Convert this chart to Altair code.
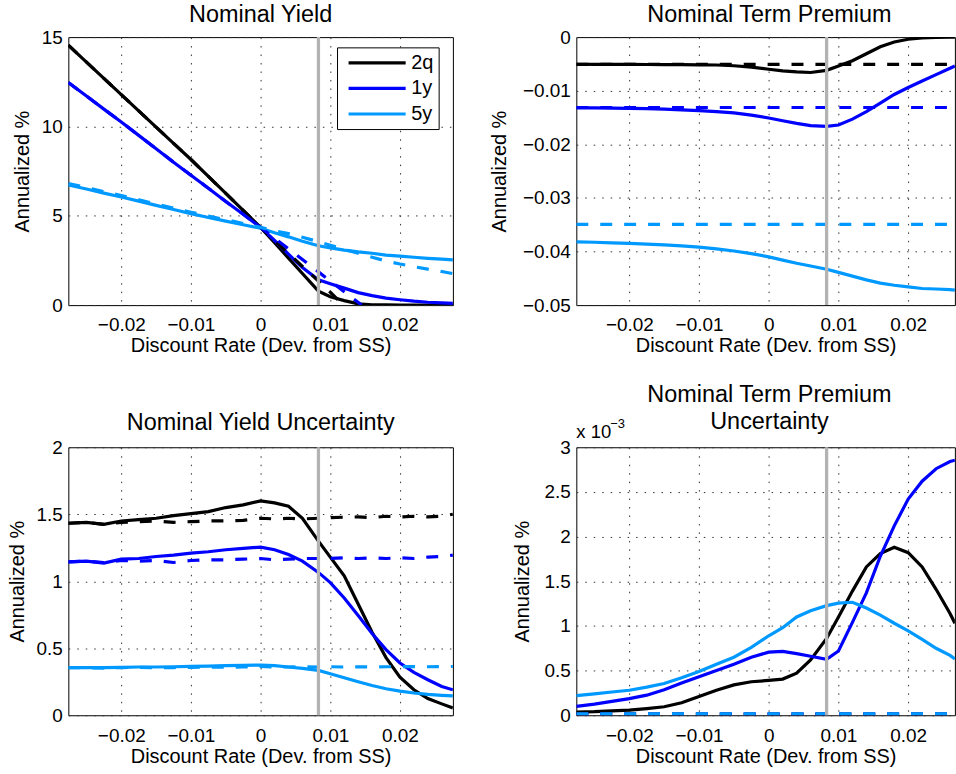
import altair as alt
import pandas as pd

FONT = "Liberation Sans"
MATS = ["2q", "1y", "5y"]
COLORS = ["#000000", "#0000FF", "#0099FF"]
ZLB_X = 0.0083
XTICKS = [-0.02, -0.01, 0, 0.01, 0.02]

# common x grid (left panels) and right-panel grid (clipped at the image edge)
X = [-0.0276, -0.025, -0.0225, -0.02, -0.0175, -0.015, -0.0125, -0.01, -0.0075, -0.005, -0.0025, 0.0,
     0.002, 0.004, 0.006, 0.0083, 0.01, 0.012, 0.014, 0.016, 0.018, 0.02, 0.022, 0.024, 0.026, 0.0276]
XR = [-0.0276, -0.025, -0.0225, -0.02, -0.0175, -0.015, -0.0125, -0.01, -0.0075, -0.005, -0.0025, 0.0,
      0.002, 0.004, 0.006, 0.0083, 0.01, 0.012, 0.014, 0.016, 0.018, 0.02, 0.022, 0.024, 0.026, 0.0267]
XLEFT = [-0.0276, -0.025, -0.0225, -0.02, -0.0175, -0.015, -0.0125, -0.01, -0.0075, -0.005, -0.0025, 0.0]

# ---- Nominal Yield ----
ny_2q = [14.55, 13.6, 12.69, 11.78, 10.87, 9.96, 9.05, 8.15, 7.2, 6.25, 5.3, 4.35,
         3.49, 2.63, 1.77, 0.78, 0.47, 0.25, 0.07, 0.02, 0.01, 0.005, 0.003, 0.002, 0.001, 0.001]
ny_2q_dash_x = XLEFT + [0.002, 0.004, 0.006, 0.0083, 0.01, 0.0119]
ny_2q_dash = [14.55, 13.6, 12.69, 11.78, 10.87, 9.96, 9.05, 8.15, 7.2, 6.25, 5.3, 4.35,
              3.62, 2.9, 2.17, 1.34, 0.72, 0.0]
ny_1y = [12.46, 11.7, 10.97, 10.25, 9.5, 8.75, 8.0, 7.27, 6.54, 5.8, 5.08, 4.35,
         3.62, 2.85, 2.1, 1.42, 1.2, 0.95, 0.7, 0.53, 0.39, 0.3, 0.22, 0.16, 0.12, 0.1]
ny_1y_dash_x = XLEFT + [0.004, 0.0083, 0.0145]
ny_1y_dash = [12.46, 11.7, 10.97, 10.25, 9.5, 8.75, 8.0, 7.27, 6.54, 5.8, 5.08, 4.35,
              3.15, 1.86, 0.0]
ny_5y = [6.72, 6.5, 6.27, 6.05, 5.82, 5.58, 5.35, 5.12, 4.9, 4.7, 4.5, 4.3,
         4.05, 3.82, 3.57, 3.32, 3.2, 3.08, 2.98, 2.9, 2.8, 2.74, 2.68, 2.62, 2.57, 2.53]
ny_5y_dash = [6.8, 6.58, 6.35, 6.13, 5.9, 5.66, 5.43, 5.2, 4.98, 4.78, 4.57, 4.35,
              4.15, 4.0, 3.8, 3.55, 3.35, 3.12, 2.9, 2.68, 2.47, 2.3, 2.15, 2.01, 1.88, 1.76]

# ---- Nominal Term Premium ----
ntp_2q = [-0.00507, -0.00508, -0.0051, -0.0051, -0.00511, -0.00512, -0.00514, -0.00517, -0.0052, -0.00535,
          -0.0056, -0.006, -0.0063, -0.0065, -0.0066, -0.0062, -0.0054, -0.0044, -0.0031, -0.0018,
          -0.0009, -0.0004, -0.00015, -0.00005, 0.0, 0.0]
ntp_1y = [-0.0132, -0.01322, -0.01326, -0.0133, -0.01336, -0.01345, -0.01357, -0.0137, -0.0139, -0.01415,
          -0.01455, -0.0151, -0.0156, -0.0161, -0.0165, -0.01666, -0.0164, -0.0153, -0.0139, -0.0123,
          -0.0107, -0.0094, -0.0082, -0.007, -0.0058, -0.0054]
ntp_5y = [-0.0382, -0.03828, -0.03838, -0.0385, -0.03863, -0.03878, -0.03895, -0.03918, -0.0395, -0.0399,
          -0.0404, -0.041, -0.0416, -0.0422, -0.0427, -0.0433, -0.0439, -0.0446, -0.0453, -0.0459,
          -0.0463, -0.0466, -0.0469, -0.047, -0.0471, -0.0472]
FLAT_X = [-0.0276, 0.0267]
ntp_2q_dash = [-0.00508, -0.00508]
ntp_1y_dash = [-0.01313, -0.01313]
ntp_5y_dash = [-0.03495, -0.03495]

# ---- Nominal Yield Uncertainty ----
nyu_2q = [1.433, 1.44, 1.425, 1.45, 1.46, 1.47, 1.49, 1.505, 1.52, 1.55, 1.57, 1.6,
          1.585, 1.56, 1.47, 1.3, 1.18, 1.04, 0.83, 0.62, 0.43, 0.285, 0.19, 0.125, 0.085, 0.055]
nyu_2q_dash = [1.433, 1.44, 1.425, 1.44, 1.445, 1.45, 1.44, 1.445, 1.45, 1.45, 1.455, 1.47,
               1.465, 1.47, 1.465, 1.47, 1.475, 1.478, 1.48, 1.475, 1.485, 1.48, 1.485, 1.48, 1.485, 1.5]
nyu_1y = [1.145, 1.15, 1.135, 1.165, 1.17, 1.185, 1.195, 1.21, 1.22, 1.235, 1.245, 1.255,
          1.235, 1.2, 1.15, 1.066, 0.99, 0.875, 0.745, 0.61, 0.49, 0.39, 0.32, 0.265, 0.215, 0.19]
nyu_1y_dash = [1.145, 1.15, 1.14, 1.155, 1.15, 1.155, 1.14, 1.155, 1.16, 1.16, 1.165, 1.17,
               1.16, 1.165, 1.17, 1.17, 1.17, 1.175, 1.17, 1.175, 1.17, 1.175, 1.17, 1.18, 1.185, 1.195]
nyu_5y = [0.355, 0.355, 0.355, 0.357, 0.36, 0.36, 0.362, 0.365, 0.367, 0.37, 0.372, 0.375,
          0.37, 0.36, 0.35, 0.335, 0.31, 0.28, 0.25, 0.222, 0.198, 0.18, 0.166, 0.156, 0.149, 0.144]
nyu_5y_dash = [0.355, 0.355, 0.352, 0.356, 0.357, 0.355, 0.356, 0.358, 0.36, 0.358, 0.36, 0.365,
               0.36, 0.36, 0.362, 0.36, 0.362, 0.36, 0.362, 0.361, 0.362, 0.362, 0.363, 0.362, 0.363, 0.364]

# ---- Nominal Term Premium Uncertainty (units of 1e-3) ----
ntpu_2q = [0.035, 0.04, 0.05, 0.058, 0.075, 0.095, 0.14, 0.21, 0.28, 0.34, 0.375, 0.39,
           0.405, 0.47, 0.62, 0.86, 1.1, 1.39, 1.66, 1.81, 1.88, 1.82, 1.66, 1.41, 1.14, 1.03]
ntpu_1y = [0.1, 0.125, 0.155, 0.186, 0.225, 0.285, 0.36, 0.43, 0.5, 0.57, 0.65, 0.707,
           0.715, 0.69, 0.66, 0.625, 0.72, 1.04, 1.37, 1.78, 2.12, 2.42, 2.62, 2.76, 2.84, 2.855]
ntpu_5y = [0.22, 0.24, 0.26, 0.28, 0.315, 0.355, 0.42, 0.49, 0.57, 0.65, 0.76, 0.89,
           0.98, 1.1, 1.17, 1.227, 1.255, 1.265, 1.2, 1.12, 1.03, 0.945, 0.85, 0.75, 0.67, 0.63]
ntpu_2q_dash = [0.012, 0.012]
ntpu_1y_dash = [0.012, 0.012]
ntpu_5y_dash = [0.015, 0.015]

TITLES = ["Nominal Yield", "Nominal Term Premium", "Nominal Yield Uncertainty",
          "Nominal Term Premium\nUncertainty"]


def frame(series):
    rows = []
    for mat, kind, xs, ys in series:
        for a, b in zip(xs, ys):
            rows.append({"mat": mat, "kind": kind, "x": a, "y": b})
    return pd.DataFrame(rows)


def title_layer(text, cx, yb):
    return alt.Chart(pd.DataFrame({"t": [text]})).mark_text(
        align="center", baseline="alphabetic", font=FONT, fontSize=23.5, color="black",
        lineBreak="\n", lineHeight=27.3).encode(x=alt.value(cx), y=alt.value(yb), text="t:N")


def panel(df, title, ydom, yvals, xdom, width, legend=None, tx=193.0, ty=-15.2, extra=None,
          ytp=9):
    cscale = alt.Scale(domain=MATS, range=COLORS)
    xenc = alt.X("x:Q", scale=alt.Scale(domain=xdom, nice=False, zero=False),
                 axis=alt.Axis(values=XTICKS, format="~g", title="Discount Rate (Dev. from SS)"))
    yenc = alt.Y("y:Q", scale=alt.Scale(domain=ydom, nice=False, zero=False),
                 axis=alt.Axis(values=yvals, format="~g", title="Annualized %", titlePadding=ytp))
    solid = alt.Chart(df).transform_filter(alt.datum.kind == "solid").mark_line(
        clip=True, strokeWidth=3.2).encode(
        x=xenc, y=yenc,
        color=alt.Color("mat:N", scale=cscale, sort=MATS, legend=legend))
    dashed = alt.Chart(df).transform_filter(alt.datum.kind == "dashed").mark_line(
        clip=True, strokeWidth=3.2, strokeDash=[12, 12]).encode(
        x="x:Q", y="y:Q",
        color=alt.Color("mat:N", scale=cscale, sort=MATS, legend=None))
    rule = alt.Chart(pd.DataFrame({"x": [ZLB_X]})).mark_rule(
        color="#b3b3b3", strokeWidth=3.3).encode(x="x:Q")
    layers = [solid, dashed, rule, title_layer(title, tx, ty)] + (extra or [])
    return alt.layer(*layers).properties(width=width, height=269)


legend1 = alt.Legend(
    orient="none", legendX=269.7, legendY=10.3, title=None,
    symbolType="M-0.46,0L6.28,0", symbolSize=289, symbolStrokeWidth=3.2, symbolDash=[1, 0],
    symbolOffset=0, labelOffset=48.5, labelFont=FONT, labelFontSize=20, labelColor="black",
    labelExpr="datum.label + ' '", rowPadding=4.7, padding=5,
    strokeColor="black", fillColor="white", cornerRadius=0, direction="vertical")

df1 = frame([
    ("2q", "solid", X, ny_2q), ("1y", "solid", X, ny_1y), ("5y", "solid", X, ny_5y),
    ("2q", "dashed", ny_2q_dash_x, ny_2q_dash), ("1y", "dashed", ny_1y_dash_x, ny_1y_dash),
    ("5y", "dashed", X, ny_5y_dash)])
df2 = frame([
    ("2q", "solid", XR, ntp_2q), ("1y", "solid", XR, ntp_1y), ("5y", "solid", XR, ntp_5y),
    ("2q", "dashed", FLAT_X, ntp_2q_dash), ("1y", "dashed", FLAT_X, ntp_1y_dash),
    ("5y", "dashed", FLAT_X, ntp_5y_dash)])
df3 = frame([
    ("2q", "solid", X, nyu_2q), ("1y", "solid", X, nyu_1y), ("5y", "solid", X, nyu_5y),
    ("2q", "dashed", X, nyu_2q_dash), ("1y", "dashed", X, nyu_1y_dash), ("5y", "dashed", X, nyu_5y_dash)])
df4 = frame([
    ("2q", "solid", XR, ntpu_2q), ("1y", "solid", XR, ntpu_1y), ("5y", "solid", XR, ntpu_5y),
    ("2q", "dashed", FLAT_X, ntpu_2q_dash), ("1y", "dashed", FLAT_X, ntpu_1y_dash),
    ("5y", "dashed", FLAT_X, ntpu_5y_dash)])

LEFT_DOM = [-0.0276, 0.0276]
RIGHT_DOM = [-0.0276, 0.0267]

mult_base = alt.Chart(pd.DataFrame({"t": ["x 10"], "e": ["\u22123"]}))
mult_text = mult_base.mark_text(align="left", baseline="alphabetic", font=FONT, fontSize=18.5,
                                color="black").encode(x=alt.value(0), y=alt.value(-9.7), text="t:N")
mult_exp = mult_base.mark_text(align="left", baseline="alphabetic", font=FONT, fontSize=13,
                               color="black").encode(x=alt.value(34), y=alt.value(-19.7), text="e:N")

p1 = panel(df1, TITLES[0], [0, 15], [0, 5, 10, 15], LEFT_DOM, 386, legend=legend1,
           tx=193.0, ty=-15.2)
p2 = panel(df2, TITLES[1], [-0.05, 0], [0, -0.01, -0.02, -0.03, -0.04, -0.05],
           RIGHT_DOM, 380, tx=193.8, ty=-15.2, ytp=13)
p3 = panel(df3, TITLES[2], [0, 2], [0, 0.5, 1, 1.5, 2], LEFT_DOM, 386, tx=193.2, ty=-17.0)
p4 = panel(df4, TITLES[3], [0, 3], [0, 0.5, 1, 1.5, 2, 2.5, 3],
           RIGHT_DOM, 380, tx=193.8, ty=-45.3, extra=[mult_text, mult_exp], ytp=12)

chart = alt.concat(
    p1, p2, p3, p4, columns=2, spacing={"row": 25.7, "column": 34.9}, align="each"
).resolve_scale(
    x="independent", y="independent", color="independent"
).resolve_legend(
    color="independent"
).properties(
    padding={"left": 6.6, "top": 0.8, "right": 0, "bottom": 0}, background="white"
).configure_view(
    stroke="black", strokeWidth=1
).configure_axis(
    labelFont=FONT, titleFont=FONT, labelFontSize=19, titleFontSize=20, titleFontWeight="normal",
    labelColor="black", titleColor="black", domain=False, ticks=False,
    grid=True, gridColor="#333333", gridDash=[1.5, 7], gridWidth=1, gridOpacity=1
).configure_axisX(
    labelPadding=11, titlePadding=1
).configure_axisY(
    labelPadding=6
)

chart.save("out.html", embed_options={"renderer": "svg", "actions": False})
